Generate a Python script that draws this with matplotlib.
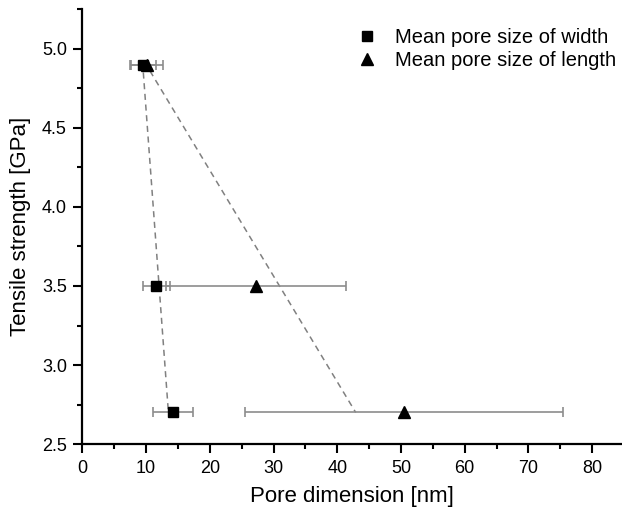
import matplotlib
matplotlib.use("Agg")
import matplotlib.pyplot as plt
from matplotlib.ticker import MultipleLocator

plt.rcParams['font.family'] = ['Liberation Sans', 'DejaVu Sans']

# tensile strength levels
strength = [4.9, 3.5, 2.7]

# mean pore width and its spread
width_mean = [9.5, 11.6, 14.25]
width_err = [2.1, 2.15, 3.1]

# mean pore length and its spread
length_mean = [10.1, 27.2, 50.5]
length_err = [2.55, 14.1, 25.0]

# linear trends drawn as dashed guides
trend_width_x = [9.56, 13.5]
trend_width_y = [4.85, 2.70]
trend_length_x = [10.6, 42.9]
trend_length_y = [4.86, 2.70]

fig = plt.figure(figsize=(6.22, 5.14), dpi=100)
ax = fig.add_axes([0.1325, 0.136, 0.8675, 0.846])

ax.plot(trend_width_x, trend_width_y, linestyle=(0, (4, 3)), color='#808080', lw=1.1, zorder=1)
ax.plot(trend_length_x, trend_length_y, linestyle=(0, (4, 3)), color='#808080', lw=1.1, zorder=1)

ax.errorbar(width_mean, strength, xerr=width_err, fmt='s', color='black', ms=6.5,
            ecolor='#8c8c8c', elinewidth=1.2, capsize=3.6, capthick=1.2,
            label='Mean pore size of width', zorder=3)
ax.errorbar(length_mean, strength, xerr=length_err, fmt='^', color='black', ms=8.5,
            ecolor='#8c8c8c', elinewidth=1.2, capsize=3.6, capthick=1.2,
            label='Mean pore size of length', zorder=3)

ax.set_xlim(0, 84.7)
ax.set_ylim(2.5, 5.25)
ax.xaxis.set_major_locator(MultipleLocator(10))
ax.xaxis.set_minor_locator(MultipleLocator(5))
ax.yaxis.set_major_locator(MultipleLocator(0.5))
ax.yaxis.set_minor_locator(MultipleLocator(0.25))
ax.yaxis.set_major_formatter(plt.FormatStrFormatter('%.1f'))

for side in ('top', 'right'):
    ax.spines[side].set_visible(False)
for side in ('left', 'bottom'):
    ax.spines[side].set_linewidth(1.6)

ax.tick_params(which='major', direction='out', length=6.7, width=1.5, labelsize=13, pad=4.5)
ax.tick_params(which='minor', direction='out', length=3.6, width=1.5)

ax.set_xlabel('Pore dimension [nm]', fontsize=16, labelpad=6.5)
ax.set_ylabel('Tensile strength [GPa]', fontsize=16, labelpad=8)

handles, labels = ax.get_legend_handles_labels()
handles = [h[0] for h in handles]
ax.legend(handles, labels, loc='upper right', frameon=False, fontsize=14.5,
          handlelength=1.0, handletextpad=0.9, borderpad=0.3, borderaxespad=0,
          labelspacing=0.2, bbox_to_anchor=(1.0, 0.97))

fig.savefig('out.png', dpi=100)
